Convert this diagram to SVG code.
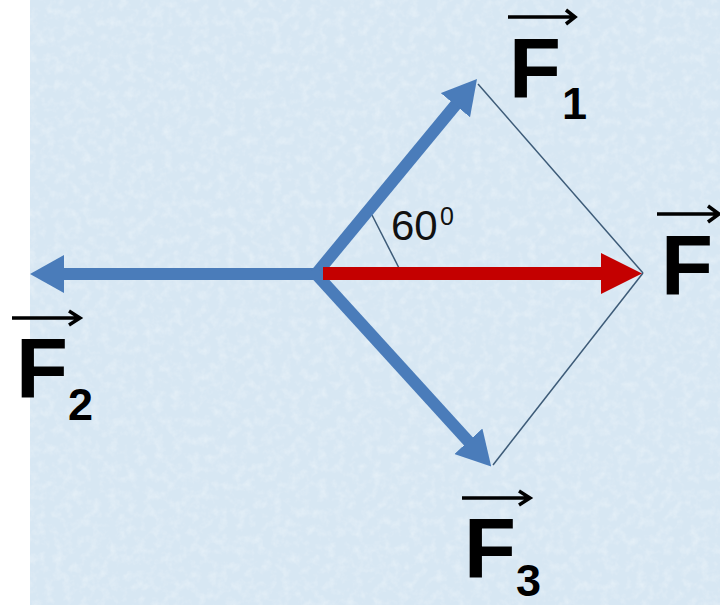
<svg xmlns="http://www.w3.org/2000/svg" width="720" height="605" viewBox="0 0 720 605">
  <defs>
    <style>
      .vec { stroke: #4a7cba; stroke-width: 12; fill: none; stroke-linecap: butt; }
      .res { stroke: #c40000; stroke-width: 13; fill: none; }
      .thin { stroke: #3d5b78; stroke-width: 1.5; fill: none; }
      .ov { stroke: #000; stroke-width: 3.5; fill: none; stroke-linecap: butt; stroke-linejoin: miter; }
      .F { font-family: "Liberation Sans", Arial, sans-serif; font-weight: bold; font-size: 85px; fill: #000; }
      .sub { font-family: "Liberation Sans", Arial, sans-serif; font-weight: bold; font-size: 45px; fill: #000; }
      .ang { font-family: "Liberation Sans", Arial, sans-serif; font-size: 42px; fill: #111; }
      .deg { font-family: "Liberation Sans", Arial, sans-serif; font-size: 25px; fill: #111; }
    </style>
    <marker id="headBlue" markerUnits="userSpaceOnUse" viewBox="0 0 34 38" markerWidth="34" markerHeight="38" refX="1" refY="19" orient="auto">
      <path d="M0,0 L34,19 L0,38 Z" fill="#4a7cba"/>
    </marker>
    <marker id="headRed" markerUnits="userSpaceOnUse" viewBox="0 0 41 41" markerWidth="41" markerHeight="41" refX="1" refY="20.5" orient="auto">
      <path d="M0,0 L41,20.5 L0,41 Z" fill="#c40000"/>
    </marker>
    <filter id="tex" x="0" y="0" width="100%" height="100%">
      <feTurbulence type="fractalNoise" baseFrequency="0.11" numOctaves="3" seed="7" result="n"/>
      <feColorMatrix in="n" type="matrix" values="0 0 0 0 1  0 0 0 0 1  0 0 0 0 1  0 0 0 1.4 -0.6" result="w"/>
      <feComposite in="w" in2="SourceGraphic" operator="in"/>
    </filter>
  </defs>

  <rect x="0" y="0" width="720" height="605" fill="#ffffff"/>
  <rect x="30" y="0" width="690" height="605" fill="#d7e7f3"/>
  <rect x="30" y="0" width="690" height="605" fill="#d7e7f3" filter="url(#tex)" opacity="0.45"/>

  <g id="connectors">
    <line class="thin" x1="478" y1="84" x2="643" y2="273"/>
    <line class="thin" x1="643" y1="273" x2="493" y2="465"/>
    <line class="thin" x1="372" y1="215" x2="400" y2="270"/>
    <line class="vec" x1="316" y1="274" x2="63" y2="274" marker-end="url(#headBlue)"/>
    <line class="vec" x1="316" y1="274" x2="456" y2="104.4" marker-end="url(#headBlue)"/>
    <line class="vec" x1="316" y1="274" x2="469" y2="442" marker-end="url(#headBlue)"/>
    <line class="res" x1="323" y1="273.5" x2="602" y2="273.5" marker-end="url(#headRed)"/>
  </g>

  <g id="label-F1">
    <text class="F" x="509" y="98">F</text>
    <text class="sub" x="562" y="119">1</text>
    <path class="ov" d="M508,17 H574 M566,10 L575,17 L566,24"/>
  </g>

  <g id="label-F">
    <text class="F" x="661" y="295">F</text>
    <path class="ov" d="M657,214 H718 M708,206 L719,214 L708,222"/>
  </g>

  <g id="label-F2">
    <text class="F" x="16" y="398">F</text>
    <text class="sub" x="68" y="420">2</text>
    <path class="ov" d="M12,318 H79 M69,311 L80,318 L69,325"/>
  </g>

  <g id="label-F3">
    <text class="F" x="464" y="578">F</text>
    <text class="sub" x="516" y="596">3</text>
    <path class="ov" d="M462,498 H529 M519,491 L530,498 L519,505"/>
  </g>

  <g id="label-angle">
    <text class="ang" x="391" y="240">60</text>
    <text class="deg" x="440" y="225">0</text>
  </g>
</svg>
